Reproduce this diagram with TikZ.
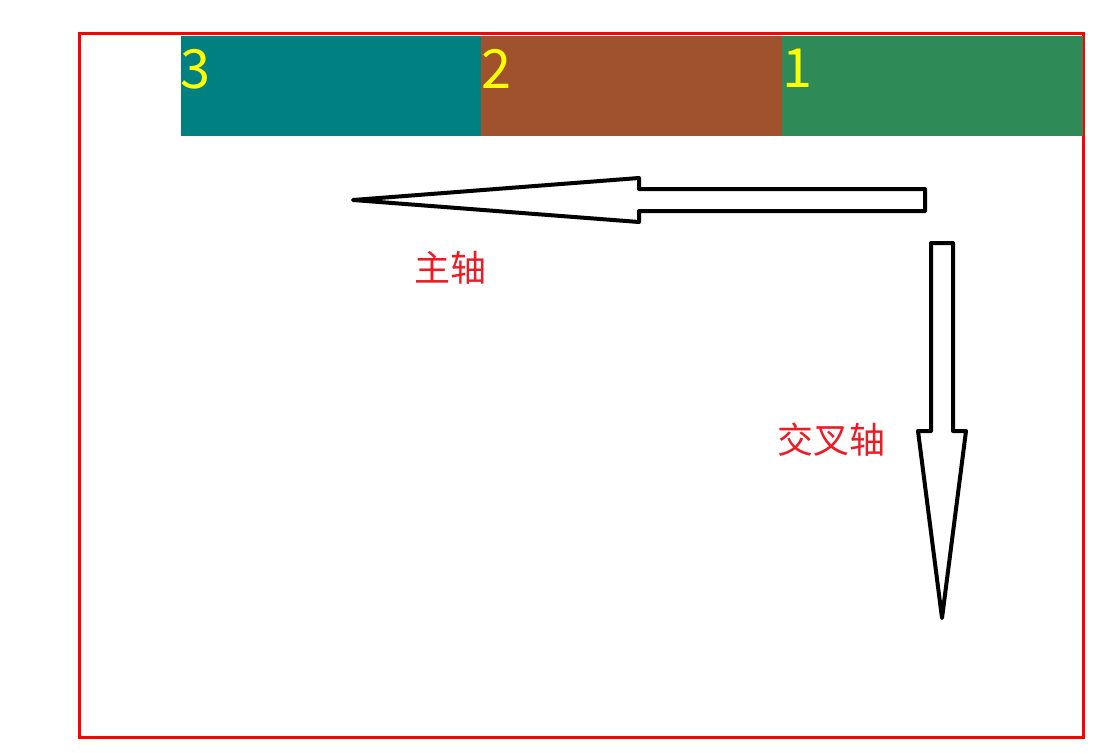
\documentclass[tikz,border=0pt]{standalone}
\usepackage{fontspec}
\setmainfont{Noto Sans CJK SC}
\usetikzlibrary{positioning}
\definecolor{barteal}{RGB}{0,128,128}
\definecolor{barbrown}{RGB}{160,82,45}
\definecolor{bargreen}{RGB}{46,139,87}
\definecolor{labelred}{RGB}{237,28,36}
\definecolor{numyellow}{RGB}{255,255,0}
\tikzset{
  bar/.style = {shape = rectangle, minimum width = 300pt, minimum height = 99pt, inner sep = 0pt, line width = 0.8pt},
  num/.style = {text = numyellow, font = \fontsize{54}{54}\selectfont, inner sep = 0pt, anchor = north west},
  axislabel/.style = {text = labelred, font = \fontsize{36}{36}\selectfont, inner sep = 0pt},
  axisarrow/.style = {draw = black, line width = 4pt, line join = round}
}
\begin{document}
\begin{tikzpicture}[x = 1pt, y = -1pt]
            \useasboundingbox (0, 0) rectangle (1118, 752);
            \draw [red, line width = 3pt] (79, 34) rectangle (1083, 737);

            \node [bar, fill = barteal, draw = barteal] (bar3) at (331, 85.5) {};
            \node [bar, fill = barbrown, draw = barbrown, right = 0pt of bar3] (bar2) {};
            \node [bar, fill = bargreen, draw = bargreen, right = 0pt of bar2] (bar1) {};
            \node [num] (num3) at ([yshift = -13pt]bar3.north west) {3};
            \node [num] (num2) at ([yshift = -13pt]bar2.north west) {2};
            \node [num] (num1) at ([yshift = -13pt]bar1.north west) {1};

            \draw [axisarrow] (353, 200) -- (639, 178) -- (639, 189) -- (925, 189)
                -- (925, 211) -- (639, 211) -- (639, 222) -- cycle;
            \draw [axisarrow] (931, 243) -- (953, 243) -- (953, 431) -- (966, 431)
                -- (942, 618) -- (918, 431) -- (931, 431) -- cycle;

            \node [axislabel] (main) at (450, 268) {主轴};
            \node [axislabel] (cross) at (831, 440) {交叉轴};
        \end{tikzpicture}
\end{document}
